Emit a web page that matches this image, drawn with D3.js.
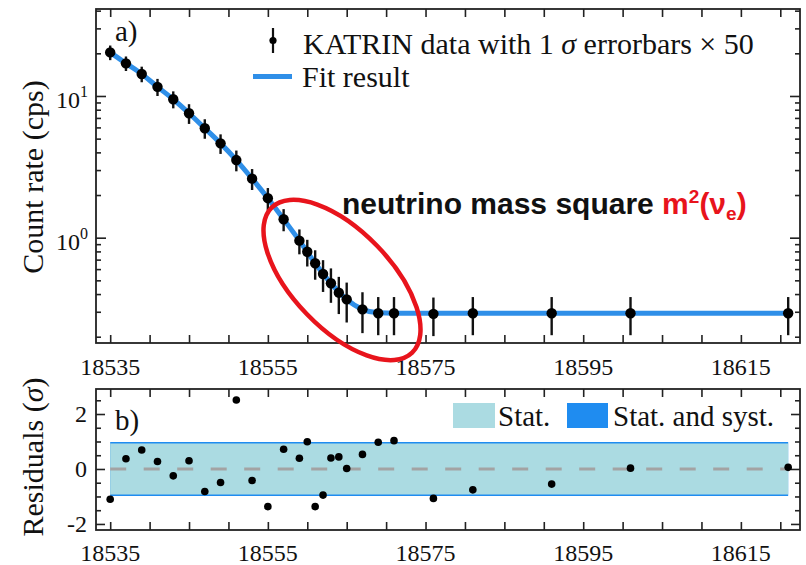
<!DOCTYPE html>
<html>
<head>
<meta charset="utf-8">
<script src="https://cdn.jsdelivr.net/npm/d3@7"></script>
<style>
  body { margin: 0; background: #fff; }
  svg text { font-family: "Liberation Serif", "DejaVu Serif", serif; fill: #111; }
</style>
</head>
<body>
<div id="chart"></div>
<script>
// retarding energy of each scan step (eV)
var energies = [18535, 18537, 18539, 18541, 18543, 18545, 18547, 18549, 18551, 18553, 18555,
    18557, 18559, 18560, 18561, 18562, 18563, 18564, 18565, 18567, 18569, 18571,
    18576, 18581, 18591, 18601, 18621];
// count rate (cps)
var rates = [20.3, 17.0, 14.3, 11.6, 9.48, 7.55, 5.92, 4.63, 3.53, 2.61, 1.90,
    1.35, 0.953, 0.796, 0.660, 0.554, 0.477, 0.409, 0.367, 0.312, 0.293, 0.293,
    0.290, 0.293, 0.293, 0.293, 0.293];
// 1 sigma errors, already x50
var errors = [2.4, 2.0, 1.8, 1.6, 1.3, 1.2, 0.93, 0.73, 0.59, 0.44, 0.34,
    0.24, 0.19, 0.17, 0.155, 0.14, 0.13, 0.12, 0.115, 0.10, 0.088, 0.088,
    0.088, 0.088, 0.088, 0.088, 0.088];
// fit result
var fitX = [18535, 18537, 18539, 18541, 18543, 18545, 18547, 18549, 18551, 18553, 18555,
    18557, 18559, 18561, 18563, 18565, 18567, 18569, 18571, 18576, 18621];
var fitY = [20.3, 17.0, 14.3, 11.6, 9.48, 7.55, 5.92, 4.63, 3.53, 2.61, 1.90,
    1.35, 0.953, 0.660, 0.477, 0.367, 0.312, 0.295, 0.293, 0.293, 0.293];
// normalised residuals (sigma)
var residuals = [-1.10, 0.37, 0.69, 0.27, -0.25, 0.30, -0.82, -0.49, 2.51, -0.42, -1.37,
    0.72, 0.39, 0.99, -1.37, -0.95, 0.40, 0.44, 0.02, 0.53, 0.97, 1.03,
    -1.07, -0.76, -0.55, 0.03, 0.06];
// uncertainty bands
var bandX = [18535, 18621];
var statBand = [0.925, 0.925];
var systBand = [0.985, 0.985];

var xTickLabels = [18535, 18555, 18575, 18595, 18615];
var resTickLabels = [-2, 0, 2];

var W = 806, H = 565;
var left = 96, right = 800;
var topA = 9, bottomA = 343;
var topB = 389, bottomB = 530;

var fitBlue = "#2f8fe8";
var systBlue = "#1f8cf0";
var statBlue = "#abdbe2";

var svg = d3.select("#chart").append("svg")
    .attr("width", W)
    .attr("height", H);

svg.append("rect").attr("width", W).attr("height", H).attr("fill", "#fff");

var x = d3.scaleLinear()
    .domain([18533.2, 18622.5])
    .range([left, right]);

var y = d3.scaleLog()
    .domain([0.1806, 41.1])
    .range([bottomA, topA]);

var yRes = d3.scaleLinear()
    .domain([-2.22, 2.91])
    .range([bottomB, topB]);

var xTicks = d3.range(18535, 18621, 5);

// log ticks: majors and minors
var logTicks = [];
[0.1, 1, 10].forEach(function(dec) {
    for (var m = 1; m <= 9; m++) {
        var v = +(dec * m).toPrecision(3);
        if (v >= y.domain()[0] && v <= y.domain()[1]) logTicks.push(v);
    }
});
var logMajor = [1, 10];

var resTicks = d3.range(-2, 3, 0.5);

function drawTicks(g, axisGen, vals, size) {
    g.call(axisGen.tickValues(vals).tickSize(size).tickFormat(""));
    g.select(".domain").remove();
    g.selectAll(".tick line").attr("stroke", "#222").attr("stroke-width", 1.6);
}

// ---------- panel a ----------
var pa = svg.append("g");

drawTicks(pa.append("g").attr("transform", "translate(0," + bottomA + ")"), d3.axisBottom(x), xTicks, -8);
drawTicks(pa.append("g").attr("transform", "translate(0," + topA + ")"), d3.axisTop(x), xTicks, -8);
drawTicks(pa.append("g").attr("transform", "translate(" + left + ",0)"), d3.axisLeft(y),
    logTicks.filter(function(v) { return logMajor.indexOf(v) < 0; }), -5);
drawTicks(pa.append("g").attr("transform", "translate(" + left + ",0)"), d3.axisLeft(y), logMajor, -10);
drawTicks(pa.append("g").attr("transform", "translate(" + right + ",0)"), d3.axisRight(y),
    logTicks.filter(function(v) { return logMajor.indexOf(v) < 0; }), -5);
drawTicks(pa.append("g").attr("transform", "translate(" + right + ",0)"), d3.axisRight(y), logMajor, -10);

pa.append("rect")
    .attr("x", left).attr("y", topA)
    .attr("width", right - left).attr("height", bottomA - topA)
    .attr("fill", "none").attr("stroke", "#222").attr("stroke-width", 1.8);

// x labels
pa.selectAll(".xl").data(xTickLabels).enter().append("text")
    .attr("x", function(d) { return x(d); })
    .attr("y", bottomA + 32)
    .attr("text-anchor", "middle")
    .attr("font-size", 24)
    .text(function(d) { return d; });

// y labels 10^n
logMajor.forEach(function(v) {
    var t = pa.append("text")
        .attr("x", 88)
        .attr("y", y(v) + 12)
        .attr("text-anchor", "end")
        .attr("font-size", 24);
    t.append("tspan").text("10");
    t.append("tspan").attr("font-size", 16).attr("dy", -11).text(Math.round(Math.log10(v)));
});

pa.append("text")
    .attr("transform", "translate(43,177) rotate(-90)")
    .attr("text-anchor", "middle")
    .attr("font-size", 30)
    .text("Count rate (cps)");

pa.append("text")
    .attr("x", 115).attr("y", 41)
    .attr("font-size", 29)
    .text("a)");

// fit line
var fitPts = fitX.map(function(d, i) { return [d, fitY[i]]; });
var fitLine = d3.line()
    .x(function(d) { return x(d[0]); })
    .y(function(d) { return y(d[1]); })
    .curve(d3.curveMonotoneX);

pa.append("path")
    .attr("d", fitLine(fitPts))
    .attr("fill", "none")
    .attr("stroke", fitBlue)
    .attr("stroke-width", 5);

// data with error bars
var pts = energies.map(function(d, i) { return {e: d, r: rates[i], err: errors[i]}; });

pa.selectAll(".eb").data(pts).enter().append("line")
    .attr("x1", function(d) { return x(d.e); })
    .attr("x2", function(d) { return x(d.e); })
    .attr("y1", function(d) { return y(d.r + d.err); })
    .attr("y2", function(d) { return y(d.r - d.err); })
    .attr("stroke", "#111")
    .attr("stroke-width", 2.4);

pa.selectAll(".pt").data(pts).enter().append("circle")
    .attr("cx", function(d) { return x(d.e); })
    .attr("cy", function(d) { return y(d.r); })
    .attr("r", 5.2)
    .attr("fill", "#000");

// legend a
pa.append("line")
    .attr("x1", 273).attr("x2", 273).attr("y1", 28).attr("y2", 53)
    .attr("stroke", "#111").attr("stroke-width", 2.2);
pa.append("circle").attr("cx", 273).attr("cy", 40.5).attr("r", 3.6).attr("fill", "#000");
var lt = pa.append("text").attr("x", 303).attr("y", 54).attr("font-size", 30);
lt.append("tspan").text("KATRIN data with 1 ");
lt.append("tspan").attr("font-style", "italic").text("σ");
lt.append("tspan").text(" errorbars × 50");

pa.append("line")
    .attr("x1", 253).attr("x2", 292).attr("y1", 76.5).attr("y2", 76.5)
    .attr("stroke", fitBlue).attr("stroke-width", 5);
pa.append("text").attr("x", 302).attr("y", 87).attr("font-size", 30).text("Fit result");

// annotation
pa.append("ellipse")
    .attr("cx", 342).attr("cy", 280)
    .attr("rx", 101).attr("ry", 49)
    .attr("transform", "rotate(46,342,280)")
    .attr("fill", "none")
    .attr("stroke", "#e8141c")
    .attr("stroke-width", 4.5);

var an = pa.append("text")
    .attr("x", 342).attr("y", 214)
    .attr("font-size", 30)
    .attr("font-weight", "bold")
    .style("font-family", "'Liberation Sans', Arial, sans-serif");
an.append("tspan").text("neutrino mass square ");
var red = an.append("tspan").style("fill", "#e8141c");
red.append("tspan").text("m");
red.append("tspan").attr("font-size", 19).attr("dy", -11).text("2");
red.append("tspan").attr("dy", 11).text("(ν");
red.append("tspan").attr("font-size", 19).attr("dy", 6).text("e");
red.append("tspan").attr("dy", -6).text(")");

// ---------- panel b ----------
var pb = svg.append("g");

var bandArea = function(vals) {
    return d3.area()
        .x(function(d) { return x(d); })
        .y0(function(d, i) { return yRes(-vals[i]); })
        .y1(function(d, i) { return yRes(vals[i]); })(bandX);
};
pb.append("path").attr("d", bandArea(systBand)).attr("fill", systBlue);
pb.append("path").attr("d", bandArea(statBand)).attr("fill", statBlue);

pb.append("line")
    .attr("x1", x(bandX[0])).attr("x2", x(bandX[1]))
    .attr("y1", yRes(0)).attr("y2", yRes(0))
    .attr("stroke", "#a3a3a3")
    .attr("stroke-width", 3)
    .attr("stroke-dasharray", "16,17.5");

drawTicks(pb.append("g").attr("transform", "translate(0," + bottomB + ")"), d3.axisBottom(x), xTicks, -8);
drawTicks(pb.append("g").attr("transform", "translate(0," + topB + ")"), d3.axisTop(x), xTicks, -8);
drawTicks(pb.append("g").attr("transform", "translate(" + left + ",0)"), d3.axisLeft(yRes),
    resTicks.filter(function(v) { return v % 2 !== 0; }), -5);
drawTicks(pb.append("g").attr("transform", "translate(" + left + ",0)"), d3.axisLeft(yRes), resTickLabels, -9);
drawTicks(pb.append("g").attr("transform", "translate(" + right + ",0)"), d3.axisRight(yRes),
    resTicks.filter(function(v) { return v % 2 !== 0; }), -5);
drawTicks(pb.append("g").attr("transform", "translate(" + right + ",0)"), d3.axisRight(yRes), resTickLabels, -9);

pb.append("rect")
    .attr("x", left).attr("y", topB)
    .attr("width", right - left).attr("height", bottomB - topB)
    .attr("fill", "none").attr("stroke", "#222").attr("stroke-width", 1.8);

pb.selectAll(".xl").data(xTickLabels).enter().append("text")
    .attr("x", function(d) { return x(d); })
    .attr("y", bottomB + 31)
    .attr("text-anchor", "middle")
    .attr("font-size", 24)
    .text(function(d) { return d; });

pb.selectAll(".yl").data(resTickLabels).enter().append("text")
    .attr("x", 87)
    .attr("y", function(d) { return yRes(d) + 8; })
    .attr("text-anchor", "end")
    .attr("font-size", 24)
    .text(function(d) { return d < 0 ? "-" + Math.abs(d) : d; });

var rt = pb.append("text")
    .attr("transform", "translate(43,457) rotate(-90)")
    .attr("text-anchor", "middle")
    .attr("font-size", 30);
rt.append("tspan").text("Residuals (");
rt.append("tspan").attr("font-style", "italic").text("σ");
rt.append("tspan").text(")");

pb.append("text").attr("x", 115).attr("y", 430).attr("font-size", 29).text("b)");

pb.selectAll(".rp").data(residuals).enter().append("circle")
    .attr("cx", function(d, i) { return x(energies[i]); })
    .attr("cy", function(d) { return yRes(d); })
    .attr("r", 3.8)
    .attr("fill", "#000");

// legend b
pb.append("rect").attr("x", 453).attr("y", 403).attr("width", 42).attr("height", 25).attr("fill", statBlue);
pb.append("text").attr("x", 498).attr("y", 426).attr("font-size", 29).text("Stat.");
pb.append("rect").attr("x", 567).attr("y", 403).attr("width", 41).attr("height", 25).attr("fill", systBlue);
pb.append("text").attr("x", 613).attr("y", 426).attr("font-size", 29).text("Stat. and syst.");
</script>
</body>
</html>
